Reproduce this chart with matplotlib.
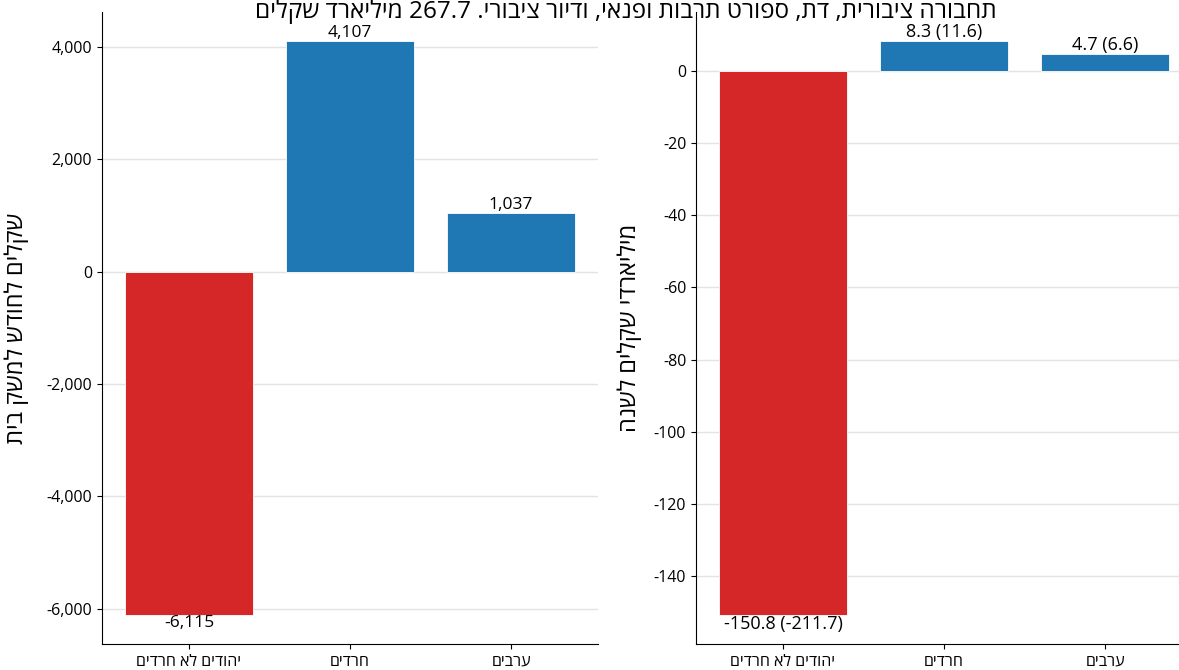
import re
import matplotlib
matplotlib.use('Agg')
import matplotlib.pyplot as plt
from matplotlib.ticker import FuncFormatter

groups = ['יהודים לא חרדים', 'חרדים', 'ערבים']
monthly_per_household = [-6115, 4107, 1037]
annual_billions = [-150.8, 8.3, 4.7]
annual_billions_alt = [-211.7, 11.6, 6.6]
colors = ['#d62728', '#1f77b4', '#1f77b4']

title = 'תחבורה ציבורית, דת, ספורט תרבות ופנאי, ודיור ציבורי. 267.7 מיליארד שקלים'
ylabel_left = 'שקלים לחודש למשק בית'
ylabel_right = 'מיליארדי שקלים לשנה'


def rtl(s):
    # matplotlib has no bidi support: flip to visual order, keep numbers as is
    r = s[::-1]
    return re.sub(r'\d[\d.,]*\d|\d', lambda m: m.group(0)[::-1], r)


plt.rcParams['font.family'] = ['Open Sans', 'DejaVu Sans']
plt.rcParams['axes.unicode_minus'] = False

fig = plt.figure(figsize=(11.79, 6.70), dpi=100)
W, H = 1179, 670
ax1 = fig.add_axes([102 / W, 26 / H, 496 / W, 632 / H])
ax2 = fig.add_axes([696 / W, 26 / H, 496 / W, 632 / H])

x = range(len(groups))

for ax in (ax1, ax2):
    ax.set_axisbelow(True)
    ax.grid(axis='y', color='#e3e3e3', linewidth=1)
    ax.spines['top'].set_visible(False)
    ax.spines['right'].set_visible(False)
    ax.tick_params(labelsize=11.5)

b1 = ax1.bar(x, monthly_per_household, width=0.8, color=colors,
             edgecolor='white', linewidth=0.6)
ax1.bar_label(b1, labels=[f'{v:,}' for v in monthly_per_household],
              padding=0, fontsize=12.5)
ax1.yaxis.set_major_formatter(FuncFormatter(lambda v, p: f'{v:,.0f}'))
ax1.set_xticks(list(x))
ax1.set_xticklabels([rtl(g) for g in groups], fontsize=11.5)
ax1.set_ylabel(rtl(ylabel_left), fontsize=17)
ax1.yaxis.set_label_coords(-0.148, 0.5)

b2 = ax2.bar(x, annual_billions, width=0.8, color=colors,
             edgecolor='white', linewidth=0.6)
lab2 = [f'{a} ({b})' for a, b in zip(annual_billions, annual_billions_alt)]
ax2.bar_label(b2, labels=lab2, padding=0, fontsize=13)
ax2.set_xticks(list(x))
ax2.set_xticklabels([rtl(g) for g in groups], fontsize=11.5)
ax2.set_ylabel(rtl(ylabel_right), fontsize=17)
ax2.yaxis.set_label_coords(-0.108, 0.5)

fig.text(626 / W, 1.0, rtl(title), ha='center', va='top', fontsize=17.5)

fig.savefig('out.png', dpi=100)
